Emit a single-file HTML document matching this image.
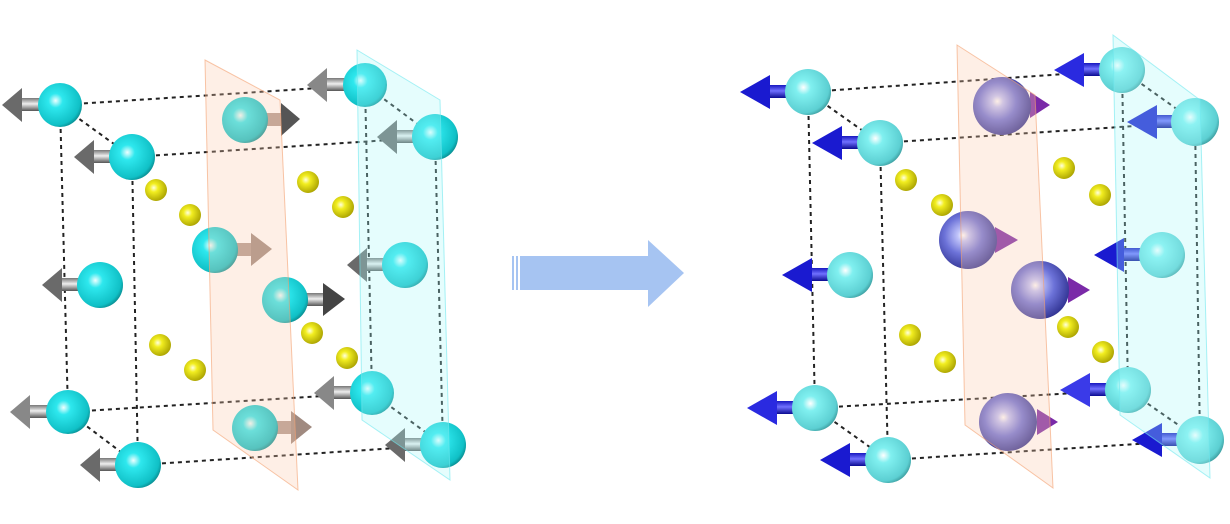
<!DOCTYPE html>
<html><head><meta charset="utf-8"><style>html,body{margin:0;padding:0;background:#fff}svg{display:block}</style></head>
<body>
<svg width="1230" height="524" viewBox="0 0 1230 524" xmlns="http://www.w3.org/2000/svg">
<defs>
<radialGradient id="cy" cx="40%" cy="40%" r="65%"><stop offset="0" stop-color="#f0ffff"/><stop offset="0.25" stop-color="#2ee8ee"/><stop offset="0.85" stop-color="#10c0c6"/><stop offset="1" stop-color="#08888c"/></radialGradient>
<radialGradient id="cy2" cx="40%" cy="40%" r="65%"><stop offset="0" stop-color="#ffffff"/><stop offset="0.25" stop-color="#80f0f0"/><stop offset="0.85" stop-color="#5ccfd2"/><stop offset="1" stop-color="#3a9a9c"/></radialGradient>
<radialGradient id="pu" cx="42%" cy="42%" r="65%"><stop offset="0" stop-color="#ffffff"/><stop offset="0.15" stop-color="#c0c4fa"/><stop offset="0.5" stop-color="#6c72d8"/><stop offset="1" stop-color="#2a2c8a"/></radialGradient>
<radialGradient id="ye" cx="40%" cy="40%" r="65%"><stop offset="0" stop-color="#ffffe0"/><stop offset="0.3" stop-color="#f2ee20"/><stop offset="1" stop-color="#a8a000"/></radialGradient>
<linearGradient id="gr" x1="0" y1="0" x2="0" y2="1"><stop offset="0" stop-color="#777"/><stop offset="0.45" stop-color="#eee"/><stop offset="1" stop-color="#555"/></linearGradient>
<linearGradient id="bl" x1="0" y1="0" x2="0" y2="1"><stop offset="0" stop-color="#1818c0"/><stop offset="0.45" stop-color="#7070ff"/><stop offset="1" stop-color="#0a0a90"/></linearGradient>
</defs>

<g stroke="#222" stroke-width="2" stroke-dasharray="4,4" fill="none">
<line x1="60" y1="105" x2="365" y2="85"/><line x1="132" y1="157" x2="435" y2="137"/>
<line x1="60" y1="105" x2="132" y2="157"/><line x1="365" y1="85" x2="435" y2="137"/>
<line x1="60" y1="105" x2="68" y2="412"/><line x1="132" y1="157" x2="138" y2="465"/>
<line x1="365" y1="85" x2="372" y2="393"/><line x1="435" y1="137" x2="443" y2="445"/>
<line x1="68" y1="412" x2="372" y2="393"/><line x1="138" y1="465" x2="443" y2="445"/>
<line x1="68" y1="412" x2="138" y2="465"/><line x1="372" y1="393" x2="443" y2="445"/>
</g>
<g fill="url(#gr)">
<rect x="20" y="98" width="40" height="13"/><polygon points="22,88 2,105 22,122" fill="#6a6a6a"/>
<rect x="92" y="150" width="40" height="13"/><polygon points="94,140 74,157 94,174" fill="#6a6a6a"/>
<rect x="325" y="78" width="40" height="13"/><polygon points="327,68 307,85 327,102" fill="#888"/>
<rect x="395" y="130" width="40" height="13"/><polygon points="397,120 377,137 397,154" fill="#6a6a6a"/>
<rect x="60" y="278" width="40" height="13"/><polygon points="62,268 42,285 62,302" fill="#6a6a6a"/>
<rect x="365" y="258" width="40" height="13"/><polygon points="367,248 347,265 367,282" fill="#6a6a6a"/>
<rect x="28" y="405" width="40" height="13"/><polygon points="30,395 10,412 30,429" fill="#888"/>
<rect x="98" y="458" width="40" height="13"/><polygon points="100,448 80,465 100,482" fill="#6a6a6a"/>
<rect x="332" y="386" width="40" height="13"/><polygon points="334,376 314,393 334,410" fill="#888"/>
<rect x="403" y="438" width="40" height="13"/><polygon points="405,428 385,445 405,462" fill="#6a6a6a"/>
<rect x="245" y="113" width="38" height="13" fill="#b09a90"/><polygon points="281,103 300,119 281,136" fill="#555"/>
<rect x="215" y="243" width="38" height="13" fill="#b09a90"/><polygon points="251,233 272,249 251,266" fill="#a08a80"/>
<rect x="285" y="293" width="40" height="13"/><polygon points="323,283 345,299 323,316" fill="#444"/>
<rect x="255" y="421" width="38" height="13" fill="#b09a90"/><polygon points="291,411 312,427 291,444" fill="#a08a80"/>
</g>
<g>
<circle cx="60" cy="105" r="22" fill="url(#cy)"/><circle cx="132" cy="157" r="23" fill="url(#cy)"/>
<circle cx="245" cy="120" r="23" fill="url(#cy)"/><circle cx="365" cy="85" r="22" fill="url(#cy)"/>
<circle cx="435" cy="137" r="23" fill="url(#cy)"/><circle cx="100" cy="285" r="23" fill="url(#cy)"/>
<circle cx="215" cy="250" r="23" fill="url(#cy)"/><circle cx="285" cy="300" r="23" fill="url(#cy)"/>
<circle cx="405" cy="265" r="23" fill="url(#cy)"/><circle cx="68" cy="412" r="22" fill="url(#cy)"/>
<circle cx="138" cy="465" r="23" fill="url(#cy)"/><circle cx="255" cy="428" r="23" fill="url(#cy)"/>
<circle cx="372" cy="393" r="22" fill="url(#cy)"/><circle cx="443" cy="445" r="23" fill="url(#cy)"/>
</g>
<g fill="url(#ye)">
<circle cx="156" cy="190" r="11"/><circle cx="190" cy="215" r="11"/><circle cx="308" cy="182" r="11"/><circle cx="343" cy="207" r="11"/>
<circle cx="160" cy="345" r="11"/><circle cx="195" cy="370" r="11"/><circle cx="312" cy="333" r="11"/><circle cx="347" cy="358" r="11"/>
</g>
<polygon points="205,60 280,100 298,490 213,430" fill="#fbc9ad" fill-opacity="0.3" stroke="#f4a070" stroke-opacity="0.6"/>
<polygon points="357,50 440,100 450,480 362,420" fill="#a8f8fa" fill-opacity="0.3" stroke="#70e8ee" stroke-opacity="0.6"/>

<g fill="#a6c4f2">
<rect x="512" y="256" width="2" height="34"/><rect x="516" y="256" width="2" height="34"/><rect x="520" y="256" width="128" height="34"/>
<polygon points="648,240 684,273 648,307"/>
</g>

<g stroke="#222" stroke-width="2" stroke-dasharray="4,4" fill="none">
<line x1="808" y1="92" x2="1122" y2="70"/><line x1="880" y1="143" x2="1195" y2="122"/>
<line x1="808" y1="92" x2="880" y2="143"/><line x1="1122" y1="70" x2="1195" y2="122"/>
<line x1="808" y1="92" x2="815" y2="408"/><line x1="880" y1="143" x2="888" y2="460"/>
<line x1="1122" y1="70" x2="1128" y2="390"/><line x1="1195" y1="122" x2="1200" y2="440"/>
<line x1="815" y1="408" x2="1128" y2="390"/><line x1="888" y1="460" x2="1200" y2="440"/>
<line x1="815" y1="408" x2="888" y2="460"/><line x1="1128" y1="390" x2="1200" y2="440"/>
</g>
<g fill="url(#bl)">
<rect x="768" y="85" width="40" height="13"/><polygon points="770,75 740,92 770,109" fill="#1a1ad0"/>
<rect x="840" y="136" width="40" height="13"/><polygon points="842,126 812,143 842,160" fill="#1a1ad0"/>
<rect x="1082" y="63" width="40" height="13"/><polygon points="1084,53 1054,70 1084,87" fill="#2a2ae0"/>
<rect x="1155" y="115" width="40" height="13"/><polygon points="1157,105 1127,122 1157,139" fill="#1a1ad0"/>
<rect x="810" y="268" width="40" height="13"/><polygon points="812,258 782,275 812,292" fill="#1a1ad0"/>
<rect x="1122" y="248" width="40" height="13"/><polygon points="1124,238 1094,255 1124,272" fill="#1a1ad0"/>
<rect x="775" y="401" width="40" height="13"/><polygon points="777,391 747,408 777,425" fill="#2a2ae0"/>
<rect x="848" y="453" width="40" height="13"/><polygon points="850,443 820,460 850,477" fill="#1a1ad0"/>
<rect x="1088" y="383" width="40" height="13"/><polygon points="1090,373 1060,390 1090,407" fill="#3a3ae8"/>
<rect x="1160" y="433" width="40" height="13"/><polygon points="1162,423 1132,440 1162,457" fill="#1a1ad0"/>
</g>
<g fill="#7a2aa8">
<polygon points="1030,92 1050,105 1030,118"/><polygon points="995,227 1018,240 995,253"/>
<polygon points="1068,277 1090,290 1068,303"/><polygon points="1037,409 1058,422 1037,435"/>
</g>
<g>
<circle cx="808" cy="92" r="23" fill="url(#cy2)"/><circle cx="880" cy="143" r="23" fill="url(#cy2)"/>
<circle cx="1122" cy="70" r="23" fill="url(#cy2)"/><circle cx="1195" cy="122" r="24" fill="url(#cy2)"/>
<circle cx="850" cy="275" r="23" fill="url(#cy2)"/><circle cx="1162" cy="255" r="23" fill="url(#cy2)"/>
<circle cx="815" cy="408" r="23" fill="url(#cy2)"/><circle cx="888" cy="460" r="23" fill="url(#cy2)"/>
<circle cx="1128" cy="390" r="23" fill="url(#cy2)"/><circle cx="1200" cy="440" r="24" fill="url(#cy2)"/>
<circle cx="1002" cy="106" r="29" fill="url(#pu)"/><circle cx="968" cy="240" r="29" fill="url(#pu)"/>
<circle cx="1040" cy="290" r="29" fill="url(#pu)"/><circle cx="1008" cy="422" r="29" fill="url(#pu)"/>
</g>
<g fill="url(#ye)">
<circle cx="906" cy="180" r="11"/><circle cx="942" cy="205" r="11"/><circle cx="1064" cy="168" r="11"/><circle cx="1100" cy="195" r="11"/>
<circle cx="910" cy="335" r="11"/><circle cx="945" cy="362" r="11"/><circle cx="1068" cy="327" r="11"/><circle cx="1103" cy="352" r="11"/>
</g>
<polygon points="957,45 1035,95 1053,488 965,425" fill="#fbc9ad" fill-opacity="0.3" stroke="#f4a070" stroke-opacity="0.6"/>
<polygon points="1113,35 1200,100 1210,478 1120,415" fill="#a8f8fa" fill-opacity="0.3" stroke="#70e8ee" stroke-opacity="0.6"/>
</svg>
</body></html>
